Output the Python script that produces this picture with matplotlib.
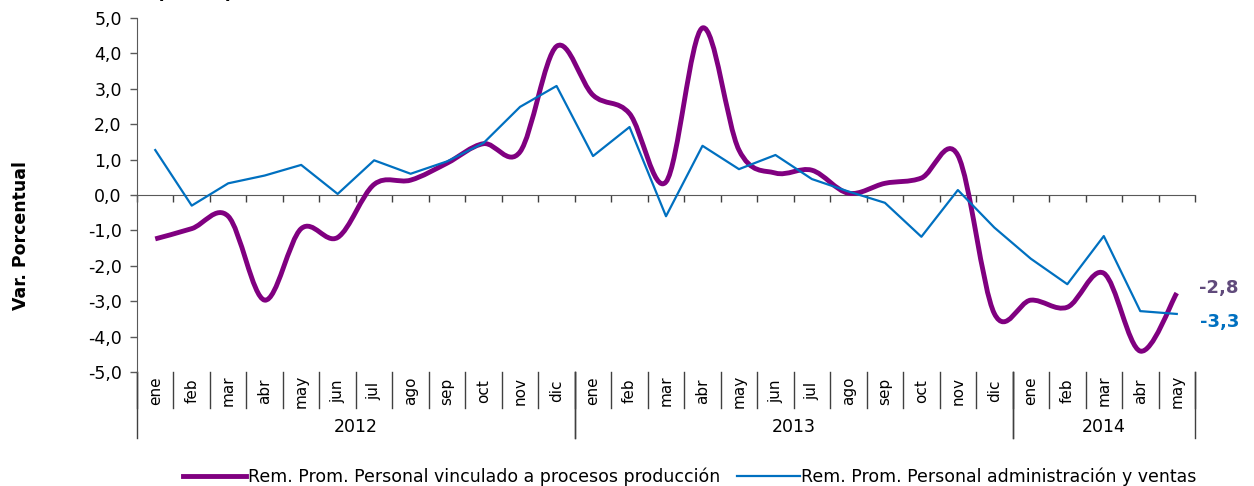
import matplotlib
matplotlib.use("Agg")
import matplotlib.pyplot as plt
from matplotlib.path import Path
from matplotlib.patches import PathPatch
from matplotlib.lines import Line2D
import numpy as np

months = ["ene", "feb", "mar", "abr", "may", "jun", "jul", "ago", "sep", "oct", "nov", "dic",
          "ene", "feb", "mar", "abr", "may", "jun", "jul", "ago", "sep", "oct", "nov", "dic",
          "ene", "feb", "mar", "abr", "may"]
years = ["2012", "2013", "2014"]
year_counts = [12, 12, 5]

produccion = [-1.24, -0.95, -0.60, -2.97, -0.95, -1.20, 0.30, 0.42, 0.90, 1.45, 1.22, 4.20,
              2.82, 2.30, 0.37, 4.72, 1.27, 0.62, 0.70, 0.05, 0.33, 0.48, 1.12, -3.35,
              -2.97, -3.17, -2.21, -4.41, -2.77]
admin_ventas = [1.27, -0.30, 0.33, 0.55, 0.85, 0.03, 0.98, 0.60, 0.95, 1.47, 2.49, 3.08,
                1.10, 1.92, -0.60, 1.39, 0.73, 1.13, 0.45, 0.10, -0.22, -1.18, 0.14, -0.92,
                -1.80, -2.52, -1.16, -3.28, -3.36]
label_prod = "Rem. Prom. Personal vinculado a procesos producción"
label_admin = "Rem. Prom. Personal administración y ventas"
end_labels = ["-2,8", "-3,3"]
yticks = [-5, -4, -3, -2, -1, 0, 1, 2, 3, 4, 5]

PURPLE = "#800080"
BLUE = "#0070C0"
GRAY = "#595959"

plt.rcParams['font.family'] = ['DejaVu Sans']

fig = plt.figure(figsize=(12.54, 4.86), dpi=100)
ax = fig.add_axes([137/1254, 1-372/486, (1195-137)/1254, (372-18)/486])

n = len(months)
x = np.arange(n)

# smoothed line (Excel-like Bezier smoothing through the data points)
def smooth_path(xs, ys):
    pts = np.column_stack([xs, ys]).astype(float)
    verts = [pts[0]]
    codes = [Path.MOVETO]
    for i in range(len(pts) - 1):
        p0 = pts[i - 1] if i > 0 else pts[i]
        p1 = pts[i]
        p2 = pts[i + 1]
        p3 = pts[i + 2] if i + 2 < len(pts) else pts[i + 1]
        c1 = p1 + (p2 - p0) / 6.0
        c2 = p2 - (p3 - p1) / 6.0
        verts += [c1, c2, p2]
        codes += [Path.CURVE4] * 3
    return Path(verts, codes)

ax.add_patch(PathPatch(smooth_path(x, produccion), facecolor="none", edgecolor=PURPLE,
                       lw=3.5, capstyle="butt", joinstyle="round", zorder=3))
ax.plot(x, admin_ventas, color=BLUE, lw=1.6, zorder=4)

ax.set_xlim(-0.5, n - 0.5)
ax.set_ylim(-5, 5)
ax.set_yticks(yticks)
ax.set_yticklabels([f"{v:.1f}".replace(".", ",") for v in yticks], fontsize=12.5)
ax.tick_params(axis="y", direction="out", length=5, width=1, color=GRAY, pad=6)

for s in ["top", "right"]:
    ax.spines[s].set_visible(False)
ax.spines["left"].set_color(GRAY)
ax.spines["bottom"].set_position(("data", 0))
ax.spines["bottom"].set_color(GRAY)
ax.set_xticks(np.arange(-0.5, n, 1.0))
ax.set_xticklabels([])
ax.tick_params(axis="x", direction="out", length=5, width=1, color="#404040")

# multi-level category axis
trans = ax.get_xaxis_transform()
ah = 354.0
for k in range(n + 1):
    xb = k - 0.5
    ax.add_line(Line2D([xb, xb], [0, -36/ah], transform=trans, color="#404040", lw=1, clip_on=False))
for i, m in enumerate(months):
    ax.text(i, -19/ah, m, transform=trans, rotation=90, ha="center", va="center", fontsize=11, color="#000000")
start = 0
for y, c in zip(years, year_counts):
    for xb in [start - 0.5, start + c - 0.5]:
        ax.add_line(Line2D([xb, xb], [0, -66/ah], transform=trans, color="#404040", lw=1, clip_on=False))
    ax.text(start + (c - 1) / 2, -55/ah, y, transform=trans, ha="center", va="center", fontsize=12.5)
    start += c

ax.set_ylabel("Var. Porcentual", fontsize=12.5, fontweight="bold", labelpad=0)
ax.yaxis.set_label_coords(-0.101, (372-235)/354)

# end labels
ax.annotate(end_labels[0], xy=(n - 1, produccion[-1]), xytext=(16, 4), textcoords="offset points",
            color="#604A7B", fontsize=13, fontweight="bold", va="center", ha="left")
ax.annotate(end_labels[1], xy=(n - 1, admin_ventas[-1]), xytext=(17, -6), textcoords="offset points",
            color=BLUE, fontsize=13, fontweight="bold", va="center", ha="left")

# title partly cut at the top
fig.text(195/1254, 1 + 2/486, "(% a/a)", ha="center", va="baseline", fontsize=14, fontweight="bold")

handles = [Line2D([], [], color=PURPLE, lw=3.5), Line2D([], [], color=BLUE, lw=1.6)]
fig.legend(handles, [label_prod, label_admin], loc="center", bbox_to_anchor=(690/1254, 1 - 477/486),
           ncol=2, frameon=False, fontsize=12.5, handlelength=3.6, handletextpad=0.1,
           columnspacing=1.0, borderaxespad=0)

fig.savefig("out.png", dpi=100)
